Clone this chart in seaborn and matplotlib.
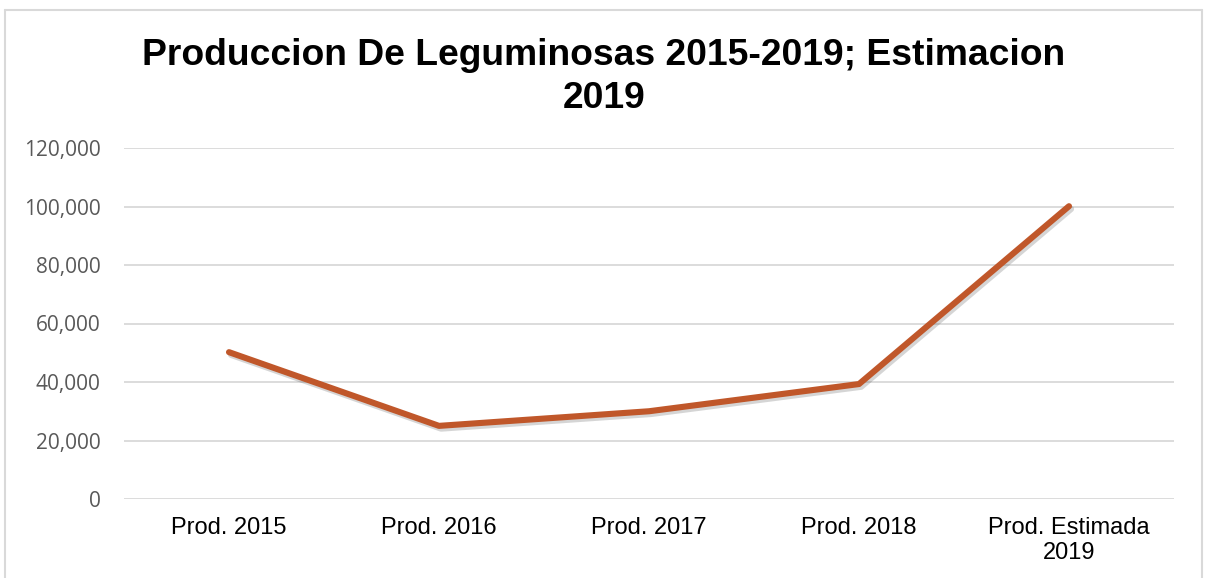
import matplotlib
matplotlib.use("Agg")
import matplotlib.pyplot as plt
import matplotlib.patheffects as pe
from matplotlib.lines import Line2D
from matplotlib.ticker import FuncFormatter
import seaborn as sns
import pandas as pd

categories = ["Prod. 2015", "Prod. 2016", "Prod. 2017", "Prod. 2018", "Prod. Estimada\n2019"]
produccion = [50200, 25000, 30000, 39300, 100100]
title = "Produccion De Leguminosas 2015-2019; Estimacion\n2019"

df = pd.DataFrame({"cat": categories, "prod": produccion})

sns.set_theme(style="white")
plt.rcParams['font.family'] = ['Liberation Sans', 'DejaVu Sans']

fig = plt.figure(figsize=(12.08, 5.78), dpi=100)
ax = fig.add_axes([124 / 1208, 1 - 499 / 578, 1050 / 1208, 351 / 578])

sns.lineplot(data=df, x="cat", y="prod", ax=ax, sort=False, color="#C0572A",
             linewidth=4.4, solid_capstyle="round", solid_joinstyle="round",
             path_effects=[pe.SimpleLineShadow(offset=(1.5, -2), alpha=0.18, shadow_color="k"),
                           pe.Normal()])

ax.set_xlim(-0.5, len(categories) - 0.5)
ax.set_ylim(0, 120000)
ax.set_yticks(range(0, 120001, 20000))
ax.yaxis.set_major_formatter(FuncFormatter(lambda v, p: f"{int(v):,}"))
ax.grid(axis="y", color="#D9D9D9", linewidth=1.3)
ax.set_axisbelow(True)
for s in ax.spines.values():
    s.set_visible(False)
ax.set_xlabel("")
ax.set_ylabel("")
ax.tick_params(axis="x", length=0, pad=13, labelsize=17, labelcolor="black")
ax.tick_params(axis="y", length=0, pad=17, labelsize=15, labelcolor="#595959")
for lbl in ax.get_yticklabels():
    lbl.set_family(["Open Sans", "DejaVu Sans"])
for lbl in ax.get_xticklabels():
    lbl.set_linespacing(1.15)

fig.text(0.5, 1 - 38 / 578, title, ha="center", va="top", fontsize=26.8,
         fontweight="bold", color="black", linespacing=1.3)

# chart border
bx0, bx1, by1 = 4.5 / 1208, 1202 / 1208, 1 - 10 / 578
for xs, ys in [([bx0, bx1], [by1, by1]), ([bx0, bx0], [0, by1]), ([bx1, bx1], [0, by1])]:
    fig.add_artist(Line2D(xs, ys, color="#D9D9D9", linewidth=1.5, transform=fig.transFigure))

fig.savefig("out.png", dpi=100, facecolor="white")
